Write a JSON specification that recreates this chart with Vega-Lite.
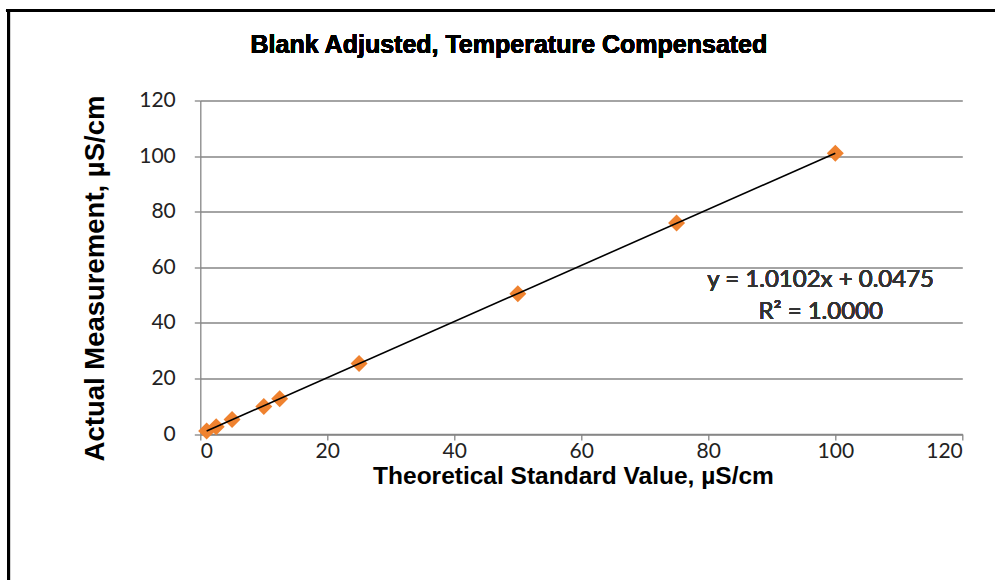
{
  "$schema": "https://vega.github.io/schema/vega-lite/v6.json",
  "autosize": "none",
  "width": 762,
  "height": 333.5,
  "padding": {"left": 200.3, "top": 100.5, "right": 32.7, "bottom": 146},
  "background": "white",
  "config": {
    "view": {"stroke": null},
    "axis": {
      "labelFont": "Lato",
      "labelFontSize": 21,
      "labelColor": "#222222",
      "titleFont": "Liberation Sans",
      "titleFontWeight": "bold",
      "titleColor": "#000000",
      "domainColor": "#868686",
      "domainWidth": 1.3,
      "tickColor": "#868686",
      "tickWidth": 1.3,
      "tickSize": 6,
      "gridColor": "#868686",
      "gridWidth": 1.3,
      "gridOpacity": 1
    }
  },
  "data": {
    "values": [
      {"standard": 1, "measured": 1.1},
      {"standard": 2.5, "measured": 2.6},
      {"standard": 5, "measured": 5.2},
      {"standard": 10, "measured": 9.9},
      {"standard": 12.5, "measured": 12.7},
      {"standard": 25, "measured": 25.4},
      {"standard": 50, "measured": 50.5},
      {"standard": 75, "measured": 75.9},
      {"standard": 100, "measured": 101.0}
    ]
  },
  "layer": [
    {
      "mark": {"type": "point", "shape": "diamond", "filled": true, "size": 290, "fill": "#EF822F", "strokeWidth": 0, "opacity": 1},
      "encoding": {
        "x": {
          "field": "standard",
          "type": "quantitative",
          "scale": {"domain": [0, 120], "nice": false},
          "axis": {
            "title": "Theoretical Standard Value, µS/cm",
            "titleFontSize": 24.5,
            "values": [0, 20, 40, 60, 80, 100, 120],
            "grid": false,
            "labelPadding": 0,
            "titleX": 372.7,
            "titleY": 42,
            "titleBaseline": "middle"
          }
        },
        "y": {
          "field": "measured",
          "type": "quantitative",
          "scale": {"domain": [0, 120], "nice": false},
          "axis": {
            "title": "Actual Measurement, µS/cm",
            "titleFontSize": 27.5,
            "values": [0, 20, 40, 60, 80, 100, 120],
            "grid": true,
            "labelPadding": 19,
            "titleX": -105,
            "titleY": 177.5,
            "titleBaseline": "middle"
          }
        }
      }
    },
    {
      "transform": [{"regression": "measured", "on": "standard", "method": "linear"}],
      "mark": {"type": "line", "stroke": "#000000", "strokeWidth": 1.6},
      "encoding": {
        "x": {"field": "standard", "type": "quantitative"},
        "y": {"field": "measured", "type": "quantitative"}
      }
    },
    {
      "mark": {"type": "text", "font": "Lato", "fontSize": 24, "fill": "#333333", "strokeWidth": 0, "align": "center", "baseline": "middle"},
      "encoding": {
        "x": {"datum": 97.7},
        "y": {"datum": 55.4},
        "text": {"value": "y = 1.0102x + 0.0475"}
      }
    },
    {
      "mark": {"type": "text", "font": "Lato", "fontSize": 24, "fill": "#333333", "strokeWidth": 0, "align": "center", "baseline": "middle"},
      "encoding": {
        "x": {"datum": 97.7},
        "y": {"datum": 44.0},
        "text": {"value": "R² = 1.0000"}
      }
    },
    {
      "mark": {"type": "text", "font": "Liberation Sans", "fontWeight": "bold", "fontSize": 25, "fill": "#000000", "strokeWidth": 0, "strokeOpacity": 0, "align": "center", "baseline": "middle"},
      "encoding": {
        "x": {"datum": 48.6},
        "y": {"datum": 140},
        "text": {"value": "Blank Adjusted, Temperature Compensated"}
      }
    },
    {
      "mark": {"type": "rule", "stroke": "#000000", "strokeWidth": 2.6},
      "encoding": {
        "x": {"datum": -30.17},
        "y": {"datum": -53},
        "y2": {"datum": 152.4}
      }
    },
    {
      "mark": {"type": "rule", "stroke": "#000000", "strokeWidth": 2.6},
      "encoding": {
        "y": {"datum": 152.4},
        "x": {"datum": -30.6},
        "x2": {"datum": 126}
      }
    }
  ]
}
